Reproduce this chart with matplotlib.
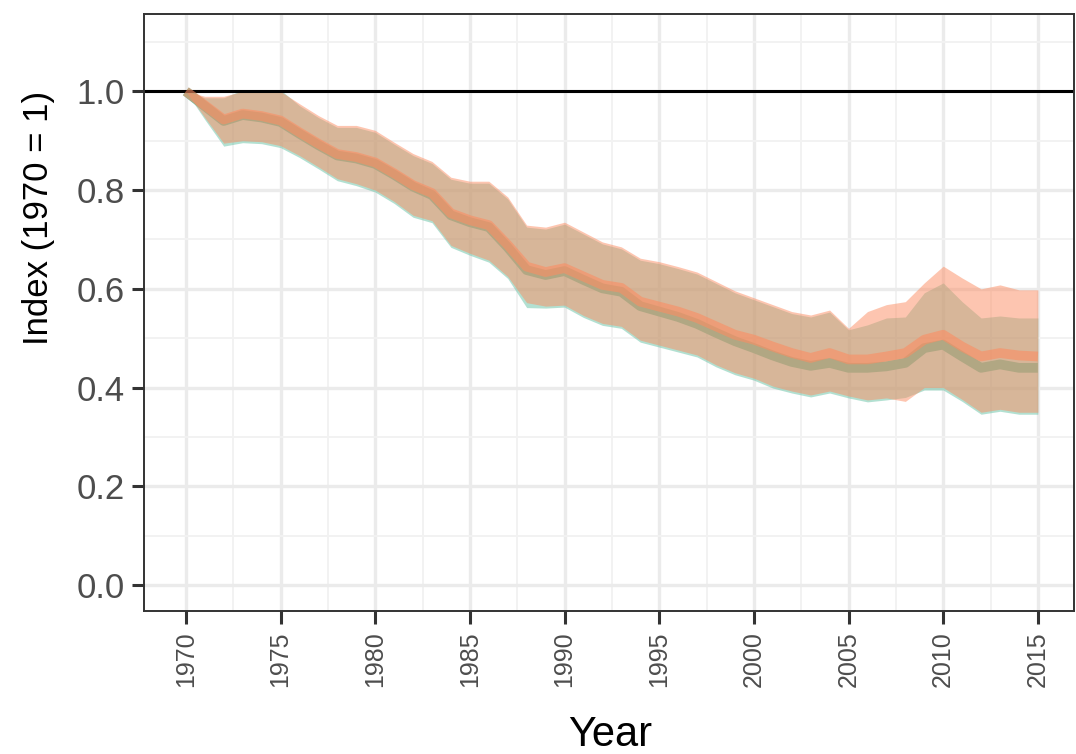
import matplotlib.pyplot as plt
from matplotlib.ticker import MultipleLocator

years = list(range(1970, 2016))

# orange series: central line and ribbon
orange_mid = [1.0, 0.972, 0.943, 0.955, 0.95, 0.941, 0.917, 0.894, 0.873, 0.867,
              0.856, 0.834, 0.81, 0.794, 0.753, 0.739, 0.729, 0.689, 0.645, 0.634,
              0.642, 0.625, 0.608, 0.602, 0.574, 0.564, 0.554, 0.541, 0.524, 0.507,
              0.497, 0.483, 0.47, 0.46, 0.47, 0.457, 0.457, 0.463, 0.47, 0.497,
              0.507, 0.483, 0.463, 0.47, 0.465, 0.463]
orange_hi = [1.0, 0.99, 0.99, 1.0, 1.0, 1.0, 0.975, 0.951, 0.931, 0.931,
             0.921, 0.897, 0.874, 0.858, 0.826, 0.818, 0.818, 0.786, 0.729, 0.725,
             0.735, 0.715, 0.695, 0.685, 0.662, 0.655, 0.645, 0.634, 0.615, 0.596,
             0.582, 0.568, 0.554, 0.547, 0.557, 0.52, 0.554, 0.568, 0.574, 0.612,
             0.646, 0.622, 0.6, 0.608, 0.598, 0.598]
orange_lo = [1.0, 0.947, 0.895, 0.9, 0.898, 0.89, 0.87, 0.847, 0.823, 0.813,
             0.8, 0.777, 0.749, 0.738, 0.688, 0.672, 0.658, 0.625, 0.572, 0.565,
             0.567, 0.546, 0.53, 0.524, 0.496, 0.486, 0.476, 0.466, 0.446, 0.43,
             0.419, 0.403, 0.393, 0.385, 0.393, 0.383, 0.375, 0.379, 0.372, 0.4,
             0.4, 0.376, 0.35, 0.356, 0.35, 0.35]

# green series
green_mid = [1.0, 0.97, 0.94, 0.952, 0.947, 0.938, 0.914, 0.891, 0.87, 0.864,
             0.853, 0.831, 0.807, 0.79, 0.749, 0.735, 0.725, 0.684, 0.638, 0.628,
             0.636, 0.618, 0.601, 0.594, 0.565, 0.554, 0.543, 0.529, 0.511, 0.494,
             0.48, 0.465, 0.452, 0.444, 0.45, 0.44, 0.44, 0.443, 0.45, 0.48,
             0.487, 0.463, 0.44, 0.447, 0.44, 0.44]
green_hi = [1.0, 0.987, 0.987, 1.003, 1.003, 1.003, 0.971, 0.947, 0.927, 0.927,
            0.917, 0.893, 0.87, 0.854, 0.822, 0.814, 0.814, 0.782, 0.725, 0.721,
            0.731, 0.711, 0.691, 0.681, 0.658, 0.651, 0.641, 0.63, 0.611, 0.592,
            0.578, 0.564, 0.55, 0.543, 0.553, 0.517, 0.527, 0.541, 0.543, 0.592,
            0.612, 0.574, 0.541, 0.545, 0.541, 0.541]
green_lo = [1.0, 0.943, 0.889, 0.896, 0.894, 0.886, 0.866, 0.843, 0.819, 0.809,
            0.796, 0.773, 0.745, 0.734, 0.684, 0.668, 0.654, 0.621, 0.562, 0.561,
            0.563, 0.542, 0.526, 0.52, 0.492, 0.482, 0.472, 0.462, 0.442, 0.426,
            0.415, 0.399, 0.389, 0.381, 0.389, 0.379, 0.371, 0.375, 0.38, 0.395,
            0.395, 0.372, 0.346, 0.352, 0.346, 0.346]

year_ticks = list(range(1970, 2020, 5))
index_ticks = [0.0, 0.2, 0.4, 0.6, 0.8, 1.0]

green = "#66C2A5"
orange = "#FC8D62"

plt.rcParams["font.family"] = ["Liberation Sans", "DejaVu Sans"]

fig = plt.figure(figsize=(10.76, 7.54), dpi=100)
ax = fig.add_axes([0.134, 0.19, 0.864, 0.791])

ax.fill_between(years, green_lo, green_hi, color=green, alpha=0.5, lw=0, zorder=2)
ax.plot(years, green_mid, color=green, lw=7, zorder=2.1,
        solid_joinstyle="round", solid_capstyle="butt")
ax.fill_between(years, orange_lo, orange_hi, color=orange, alpha=0.5, lw=0, zorder=2.2)
ax.axhline(1.0, color="black", lw=2.2, zorder=2.3)
ax.plot(years, orange_mid, color=orange, alpha=0.6, lw=7, zorder=2.4,
        solid_joinstyle="round", solid_capstyle="butt")

ax.set_xlim(1967.8, 2016.9)
ax.set_ylim(-0.052, 1.156)
ax.set_xticks(year_ticks)
ax.set_xticklabels([str(y) for y in year_ticks], rotation=90)
ax.set_yticks(index_ticks)
ax.set_yticklabels([f"{v:.1f}" for v in index_ticks])
ax.xaxis.set_minor_locator(MultipleLocator(2.5))
ax.yaxis.set_minor_locator(MultipleLocator(0.1))

ax.grid(which="major", color="#EBEBEB", lw=2.4, zorder=0)
ax.grid(which="minor", color="#F2F2F2", lw=1.4, zorder=0)
ax.set_axisbelow(True)

ax.tick_params(which="major", length=9, width=2.2, color="#333333",
               labelcolor="#4D4D4D")
ax.tick_params(axis="y", labelsize=25, pad=5)
ax.tick_params(axis="x", labelsize=18, pad=6)
ax.tick_params(which="minor", length=0)
for s in ax.spines.values():
    s.set_color("#333333")
    s.set_linewidth(1.4)

ax.set_xlabel("Year", fontsize=30, va="center")
ax.xaxis.set_label_coords(0.501, -0.208)
ax.set_ylabel("Index (1970 = 1)", fontsize=25, va="center")
ax.yaxis.set_label_coords(-0.114, 0.658)

fig.savefig("out.png", dpi=100)
